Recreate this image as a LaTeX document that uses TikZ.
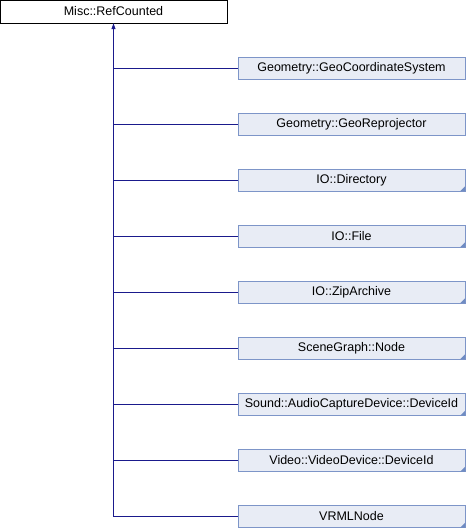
\documentclass[tikz,border=0pt]{standalone}
\usepackage{fontspec}
\setmainfont{Liberation Sans}
\usetikzlibrary{positioning,arrows.meta}
\definecolor{boxfill}{HTML}{E8ECF5}
\definecolor{boxline}{HTML}{7D95C8}
\definecolor{linkblue}{HTML}{1A1A8C}
\definecolor{cornerblue}{HTML}{6F8CC3}

\begin{document}
\begin{tikzpicture}[x=1pt,y=-1pt,
    base/.style={draw=black, fill=white, minimum width=227pt, minimum height=23pt, inner sep=0pt, font=\fontsize{12.5}{14}\selectfont},
    derived/.style={draw=boxline, fill=boxfill, minimum width=227pt, minimum height=22pt, inner sep=0pt, font=\fontsize{12.5}{14}\selectfont},
    edge/.style={draw=linkblue, line width=0.8pt}]
\useasboundingbox (0,0) rectangle (466,528);

% Base class
\node[base] (refcounted) at (113.5,11.5) {Misc::RefCounted};

% Derived classes
\node[derived] (geocoord) at (351.5,68) {Geometry::GeoCoordinateSystem};
\node[derived] (georeproj) at (351.5,124) {Geometry::GeoReprojector};
\node[derived] (directory) at (351.5,180) {IO::Directory};
\node[derived] (file) at (351.5,236) {IO::File};
\node[derived] (ziparchive) at (351.5,292) {IO::ZipArchive};
\node[derived] (scenenode) at (351.5,348) {SceneGraph::Node};
\node[derived] (audiodevice) at (351.5,404.5) {Sound::AudioCaptureDevice::DeviceId};
\node[derived] (videodevice) at (351.5,460.5) {Video::VideoDevice::DeviceId};
\node[derived] (vrmlnode) at (351.5,516.5) {VRMLNode};

% Small corner marks for classes with further subclasses
\fill[cornerblue] (directory.south east) -- ++(-5,0) -- ++(5,-5) -- cycle;
\fill[cornerblue] (file.south east) -- ++(-5,0) -- ++(5,-5) -- cycle;
\fill[cornerblue] (ziparchive.south east) -- ++(-5,0) -- ++(5,-5) -- cycle;
\fill[cornerblue] (scenenode.south east) -- ++(-5,0) -- ++(5,-5) -- cycle;
\fill[cornerblue] (audiodevice.south east) -- ++(-5,0) -- ++(5,-5) -- cycle;
\fill[cornerblue] (videodevice.south east) -- ++(-5,0) -- ++(5,-5) -- cycle;
\fill[cornerblue] (vrmlnode.south east) -- ++(-5,0) -- ++(5,-5) -- cycle;

% Inheritance trunk and branches
\draw[edge, -{Triangle[length=6pt,width=4pt]}] (refcounted.south |- vrmlnode.west) -- (refcounted.south);
\draw[edge] (refcounted.south |- geocoord.west) -- (geocoord.west);
\draw[edge] (refcounted.south |- georeproj.west) -- (georeproj.west);
\draw[edge] (refcounted.south |- directory.west) -- (directory.west);
\draw[edge] (refcounted.south |- file.west) -- (file.west);
\draw[edge] (refcounted.south |- ziparchive.west) -- (ziparchive.west);
\draw[edge] (refcounted.south |- scenenode.west) -- (scenenode.west);
\draw[edge] (refcounted.south |- audiodevice.west) -- (audiodevice.west);
\draw[edge] (refcounted.south |- videodevice.west) -- (videodevice.west);
\draw[edge] (refcounted.south |- vrmlnode.west) -- (vrmlnode.west);
\end{tikzpicture}
\end{document}
